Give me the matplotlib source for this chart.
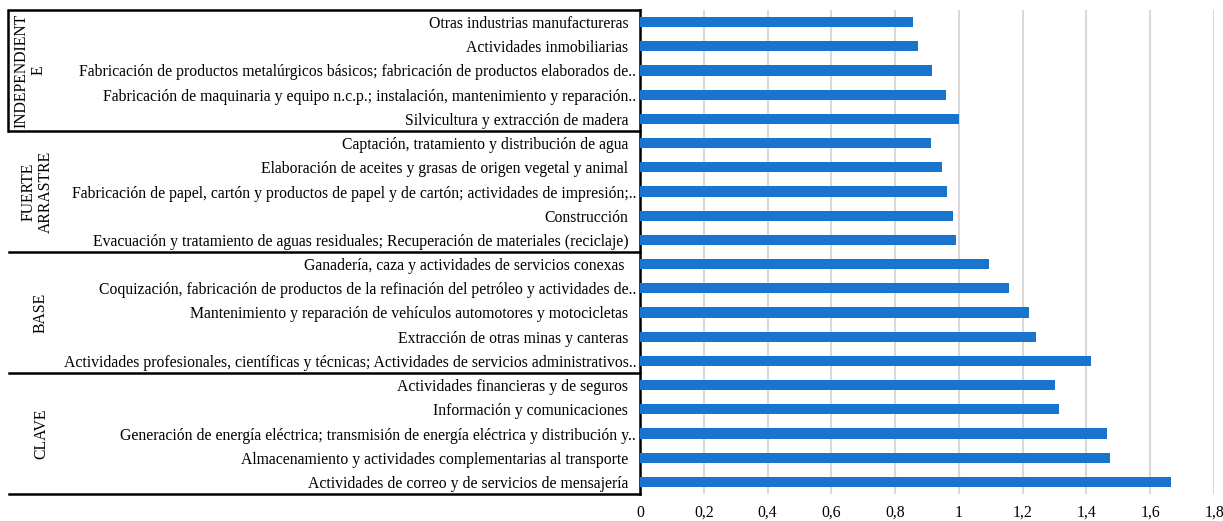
import matplotlib.pyplot as plt
from matplotlib.transforms import ScaledTranslation

plt.rcParams['font.family'] = ['Liberation Serif', 'DejaVu Serif']

# datos (de arriba hacia abajo)
grupos = ['INDEPENDIENT\nE', 'FUERTE\nARRASTRE', 'BASE', 'CLAVE']
sectores = [
    'Otras industrias manufactureras',
    'Actividades inmobiliarias',
    'Fabricación de productos metalúrgicos básicos; fabricación de productos elaborados de..',
    'Fabricación de maquinaria y equipo n.c.p.; instalación, mantenimiento y reparación..',
    'Silvicultura y extracción de madera',
    'Captación, tratamiento y distribución de agua',
    'Elaboración de aceites y grasas de origen vegetal y animal',
    'Fabricación de papel, cartón y productos de papel y de cartón; actividades de impresión;..',
    'Construcción',
    'Evacuación y tratamiento de aguas residuales; Recuperación de materiales (reciclaje)',
    'Ganadería, caza y actividades de servicios conexas ',
    'Coquización, fabricación de productos de la refinación del petróleo y actividades de..',
    'Mantenimiento y reparación de vehículos automotores y motocicletas',
    'Extracción de otras minas y canteras',
    'Actividades profesionales, científicas y técnicas; Actividades de servicios administrativos..',
    'Actividades financieras y de seguros',
    'Información y comunicaciones',
    'Generación de energía eléctrica; transmisión de energía eléctrica y distribución y..',
    'Almacenamiento y actividades complementarias al transporte',
    'Actividades de correo y de servicios de mensajería',
]
valores = [0.856, 0.872, 0.917, 0.959, 1.0,
           0.911, 0.946, 0.962, 0.980, 0.992,
           1.095, 1.157, 1.220, 1.242, 1.413,
           1.302, 1.315, 1.463, 1.474, 1.665]
por_grupo = 5
ticks_x = [0, 0.2, 0.4, 0.6, 0.8, 1.0, 1.2, 1.4, 1.6, 1.8]
etiquetas_x = ['0', '0,2', '0,4', '0,6', '0,8', '1', '1,2', '1,4', '1,6', '1,8']

W, H = 1223, 521
fs = 11.3
fig = plt.figure(figsize=(W / 100, H / 100), dpi=100)
x0, x1, y0, y1 = 640, 1214, 10, 494
ax = fig.add_axes([x0 / W, (H - y1) / H, (x1 - x0) / W, (y1 - y0) / H])

n = len(sectores)
pos = list(range(n))
ax.barh(pos, valores, height=0.42, color='#1874CD', zorder=3)
ax.set_ylim(n - 0.5, -0.5)
ax.set_xlim(0, 1.8)

ax.set_xticks(ticks_x)
ax.set_xticklabels(etiquetas_x, fontsize=fs)
ax.tick_params(axis='x', length=0, pad=8)
for t in ticks_x[1:]:
    ax.axvline(t, color='#D9D9D9', lw=1.5, zorder=1)

ax.set_yticks(pos)
ax.set_yticklabels(sectores, fontsize=fs)
ax.tick_params(axis='y', length=0, pad=8.5)
for lab in ax.get_yticklabels():
    if lab.get_text().endswith('..'):
        lab.set_transform(lab.get_transform() + ScaledTranslation(8 / 100, 0, fig.dpi_scale_trans))

for s in ['top', 'right', 'bottom']:
    ax.spines[s].set_visible(False)
ax.spines['left'].set_color('black')
ax.spines['left'].set_linewidth(1.8)

# tabla de grupos a la izquierda (coordenadas de figura en pixeles)
def fx(px):
    return px / W

def fy(py):
    return (H - py) / H

lw = 1.8
fig.add_artist(plt.Line2D([fx(10), fx(640)], [fy(10), fy(10)], color='black', lw=lw))
fig.add_artist(plt.Line2D([fx(8), fx(8)], [fy(10), fy(131)], color='black', lw=lw))
fila = (y1 - y0) / n
grupo_x = [30, 37, 41, 41]
for i, g in enumerate(grupos):
    yb = y0 + fila * por_grupo * (i + 1)
    fig.add_artist(plt.Line2D([fx(9), fx(640)], [fy(yb), fy(yb)], color='black', lw=lw))
    yc = y0 + fila * por_grupo * (i + 0.5)
    fig.text(fx(grupo_x[i]), fy(yc), g, rotation=90, ha='center', va='center',
             fontsize=fs, linespacing=1.1, multialignment='center')

fig.savefig('out.png', dpi=100)
